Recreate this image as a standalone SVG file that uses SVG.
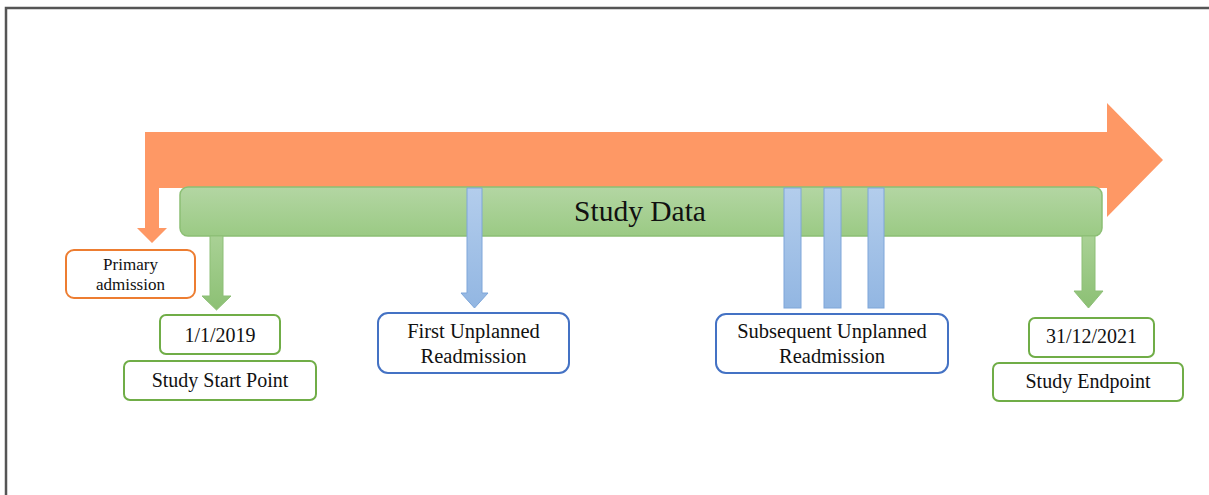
<svg xmlns="http://www.w3.org/2000/svg" width="1209" height="495" viewBox="0 0 1209 495">
  <defs>
    <linearGradient id="gGreen" x1="0" y1="0" x2="0" y2="1">
      <stop offset="0" stop-color="#b3d6a3"/>
      <stop offset="1" stop-color="#9bca84"/>
    </linearGradient>
    <linearGradient id="gGreenArrow" x1="0" y1="0" x2="0" y2="1">
      <stop offset="0" stop-color="#a9d195"/>
      <stop offset="1" stop-color="#8cc074"/>
    </linearGradient>
    <linearGradient id="gBlue" x1="0" y1="0" x2="0" y2="1">
      <stop offset="0" stop-color="#b3cdec"/>
      <stop offset="1" stop-color="#92b6e2"/>
    </linearGradient>
    <style>
      .t { font-family: "Liberation Serif", "Times New Roman", serif; fill: #111; text-anchor: middle; }
      .gbox { fill: #fff; stroke: #70ad47; stroke-width: 2; }
      .bbox { fill: #fff; stroke: #4472c4; stroke-width: 2; }
      .obox { fill: #fff; stroke: #ed7d31; stroke-width: 2; }
      .garrow { fill: url(#gGreenArrow); stroke: #8dbf76; stroke-width: 1; }
      .barrow { fill: url(#gBlue); stroke: #7ea6d9; stroke-width: 1; }
    </style>
  </defs>
  <rect width="1209" height="495" fill="#fff"/>
  <path d="M6,495 L6,8 L1209,8" fill="none" stroke="#555" stroke-width="2.5"/>

  <g id="timeline">
    <path d="M145,132 L1107,132 L1107,103 L1163,160 L1107,217 L1107,188 L159,188 L159,228 L167,228 L152,243 L137,228 L145,228 Z" fill="#fe9865"/>
  </g>

  <g id="study-data">
    <rect x="180" y="187" width="922" height="49" rx="8" fill="url(#gGreen)" stroke="#8cbf74" stroke-width="1.5"/>
    <text class="t" x="640" y="221" font-size="29.5">Study Data</text>
  </g>

  <g id="connectors">
    <path class="garrow" d="M210,236 L223,236 L223,296 L231,296 L216.5,310 L202,296 L210,296 Z"/>
    <path class="garrow" d="M1082,236 L1095,236 L1095,291 L1103,291 L1088.5,308 L1074,291 L1082,291 Z"/>
    <path class="barrow" d="M467,188 L482,188 L482,293 L488,293 L474.5,308 L461,293 L467,293 Z"/>
    <rect class="barrow" x="784" y="188" width="17" height="120"/>
    <rect class="barrow" x="824" y="188" width="17" height="120"/>
    <rect class="barrow" x="868" y="188" width="16" height="120"/>
  </g>

  <g id="primary-admission">
    <rect class="obox" x="66" y="250" width="129" height="48" rx="8"/>
    <text class="t" x="130.5" y="270" font-size="17">Primary</text>
    <text class="t" x="130.5" y="290" font-size="17">admission</text>
  </g>

  <g id="start-date">
    <rect class="gbox" x="160" y="315" width="120" height="39" rx="6"/>
    <text class="t" x="220" y="342" font-size="20">1/1/2019</text>
  </g>

  <g id="study-start-point">
    <rect class="gbox" x="124" y="361" width="192" height="39" rx="6"/>
    <text class="t" x="220" y="387" font-size="20">Study Start Point</text>
  </g>

  <g id="first-readmission">
    <rect class="bbox" x="378" y="313" width="191" height="60" rx="10"/>
    <text class="t" x="473.5" y="338" font-size="20.5">First Unplanned</text>
    <text class="t" x="473.5" y="363" font-size="20.5">Readmission</text>
  </g>

  <g id="subsequent-readmission">
    <rect class="bbox" x="716" y="314" width="232" height="59" rx="10"/>
    <text class="t" x="832" y="338" font-size="20.5">Subsequent Unplanned</text>
    <text class="t" x="832" y="363" font-size="20.5">Readmission</text>
  </g>

  <g id="end-date">
    <rect class="gbox" x="1029" y="318" width="125" height="39" rx="6"/>
    <text class="t" x="1091.5" y="343" font-size="20">31/12/2021</text>
  </g>

  <g id="study-endpoint">
    <rect class="gbox" x="993" y="363" width="190" height="38" rx="6"/>
    <text class="t" x="1088" y="388" font-size="20">Study Endpoint</text>
  </g>
</svg>
